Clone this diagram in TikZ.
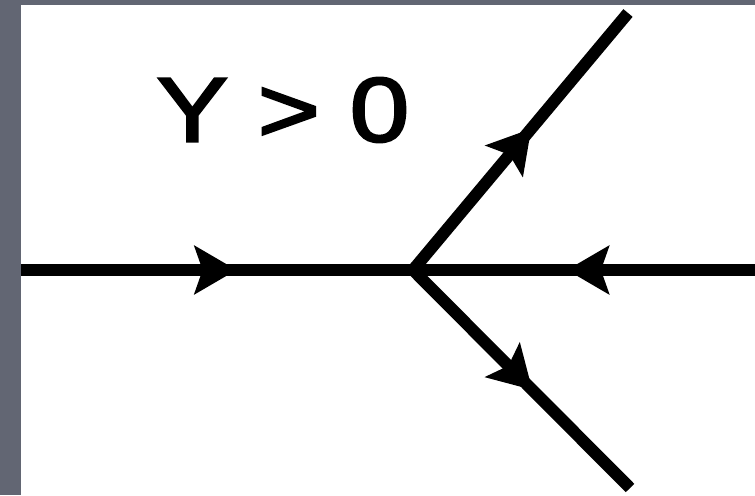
\documentclass[tikz,border=0pt]{standalone}
\usepackage{fontspec}
\setmainfont{Liberation Sans}
\newfontfamily\condfont[FakeBold=2.4]{Liberation Sans}
\usetikzlibrary{positioning,arrows.meta}
\usetikzlibrary{decorations.markings}
\definecolor{framegray}{RGB}{98,102,115}

\begin{document}
\begin{tikzpicture}[node distance=4.3cm and 7.84cm,
    fermion/.style={line width=2.4mm,draw=black, postaction={decorate},
      decoration={markings,mark=at position .55 with {\arrow[black]{Stealth[length=8.4mm,width=9.6mm,inset=1.6mm]}}}}]

    % Background
    \fill[framegray] (0,0) rectangle (15.1,9.9);
    \fill[white] (0.42,0) rectangle (15.1,9.8);
    \useasboundingbox (0,0) rectangle (15.1,9.9);

    % Set coordinates
    \coordinate (v) at (8.26,4.5);
    \coordinate[left=of v] (a1);
    \coordinate (a2) at (15.1,4.5);
    \coordinate (b1) at (12.56,9.64);
    \coordinate (b2) at (12.60,0.14);

    % Draw lines
    \draw[fermion] (a1) -- (v);
    \draw[fermion] (a2) -- (v);
    \draw[fermion] (v) -- (b1);
    \draw[fermion] (v) -- (b2);

    \node[font=\condfont\fontsize{52}{60}\selectfont] (cond) at (5.66,7.7)
      {\scalebox{1.17}[1]{Y > 0}};
\end{tikzpicture}
\end{document}
